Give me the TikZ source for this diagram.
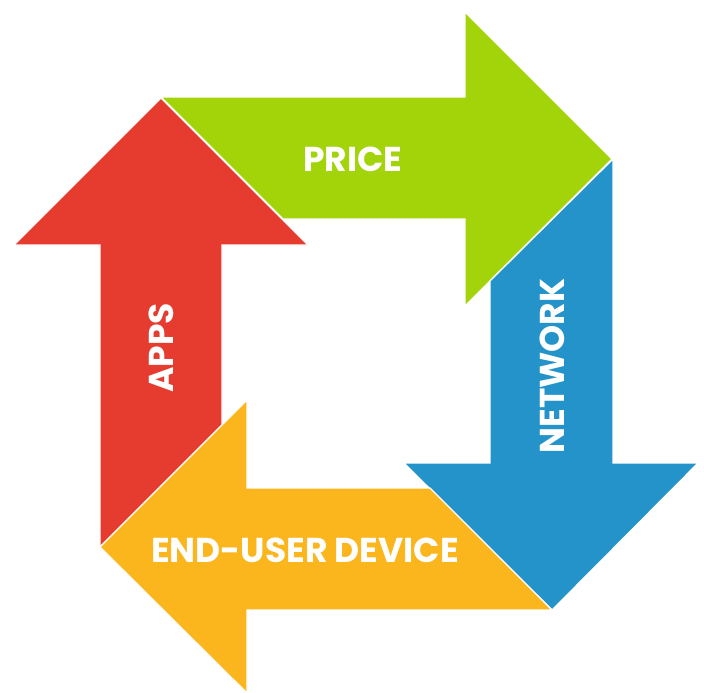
\documentclass[tikz,border=0pt]{standalone}
\usepackage{fontspec}
\setmainfont{Poppins}
\definecolor{cred}{HTML}{E63C2F}
\definecolor{cgreen}{HTML}{A3D40A}
\definecolor{cblue}{HTML}{2393CA}
\definecolor{corange}{HTML}{FBB51D}
\tikzset{
  arrowshape/.style={draw=white, line width=1.2pt, line join=miter},
  lbl/.style={text=white, font=\fontsize{34.5}{38}\selectfont\bfseries, inner sep=0pt}
}
\begin{document}
\begin{tikzpicture}[x=1pt,y=-1pt]
\useasboundingbox (0,0) rectangle (704,693);
% red APPS arrow (up)
\fill[cred, arrowshape] (100,547) -- (100,245) -- (14,245) -- (161,98) -- (308,245) -- (222,245) -- (222,425) -- cycle;
% green PRICE arrow (right)
\fill[cgreen, arrowshape] (161,97) -- (465,97) -- (465,12) -- (612,159) -- (465,306) -- (465,219) -- (283,219) -- cycle;
% blue NETWORK arrow (down)
\fill[cblue, arrowshape] (613,159) -- (613,463) -- (698,463) -- (552,610) -- (404,463) -- (490,463) -- (490,281) -- cycle;
% orange END-USER DEVICE arrow (left)
\fill[corange, arrowshape] (552,610) -- (247,610) -- (247,693) -- (100,547) -- (247,400) -- (247,488) -- (430,488) -- cycle;
\node[lbl] (price) at (353,159) {PRICE};
\node[lbl, rotate=90] (apps) at (161,348) {APPS};
\node[lbl, rotate=90] (network) at (552,366) {NETWORK};
\node[lbl] (device) at (305,550) {END-USER DEVICE};
\end{tikzpicture}
\end{document}
